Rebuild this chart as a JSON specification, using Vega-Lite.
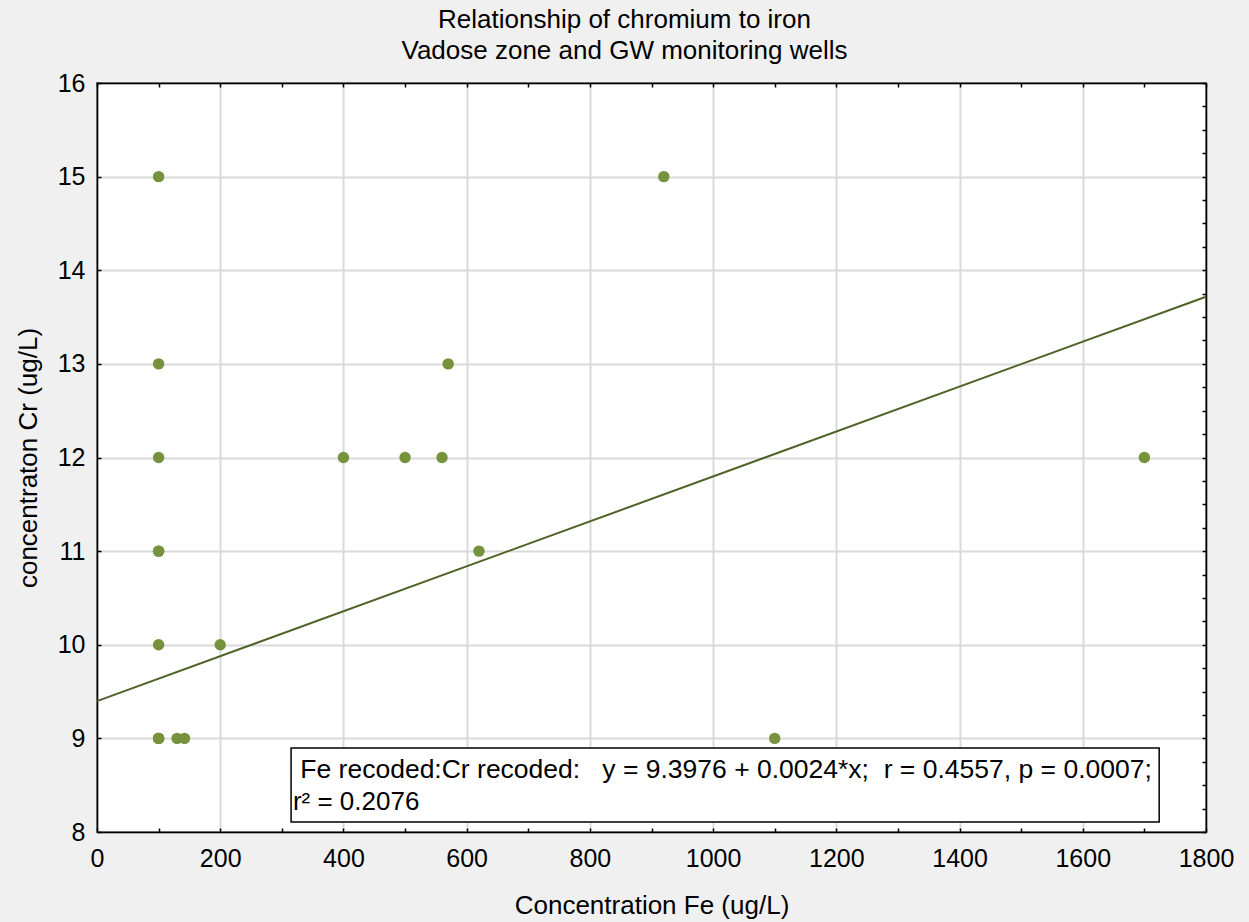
{
  "$schema": "https://vega.github.io/schema/vega-lite/v6.json",
  "width": 1109,
  "height": 749,
  "autosize": {"type": "none"},
  "padding": {"left": 97, "top": 83, "right": 43, "bottom": 90},
  "background": "#f0f0f0",
  "config": {
    "view": {"fill": "white", "stroke": "black", "strokeWidth": 1.5},
    "font": "Liberation Sans",
    "text": {"font": "Liberation Sans"}
  },
  "title": {
    "text": ["Relationship of chromium to iron", "Vadose zone and GW monitoring wells"],
    "font": "Liberation Sans",
    "fontSize": 26,
    "fontWeight": "normal",
    "color": "black",
    "anchor": "middle",
    "baseline": "alphabetic",
    "dx": -27,
    "lineHeight": 31,
    "offset": -14
  },
  "datasets": {
    "points": [
      {"Fe": 100, "Cr": 15}, {"Fe": 100, "Cr": 13}, {"Fe": 100, "Cr": 12},
      {"Fe": 100, "Cr": 11}, {"Fe": 100, "Cr": 11}, {"Fe": 100, "Cr": 10},
      {"Fe": 100, "Cr": 9}, {"Fe": 100, "Cr": 9}, {"Fe": 100, "Cr": 9},
      {"Fe": 130, "Cr": 9}, {"Fe": 142, "Cr": 9}, {"Fe": 200, "Cr": 10},
      {"Fe": 400, "Cr": 12}, {"Fe": 500, "Cr": 12}, {"Fe": 560, "Cr": 12},
      {"Fe": 570, "Cr": 13}, {"Fe": 620, "Cr": 11}, {"Fe": 920, "Cr": 15},
      {"Fe": 1100, "Cr": 9}, {"Fe": 1700, "Cr": 12}
    ],
    "fit": [{"Fe": 0, "Cr": 9.3976}, {"Fe": 1800, "Cr": 13.7176}]
  },
  "layer": [
    {
      "layer": [
        {
          "data": {"name": "points"},
          "mark": {"type": "circle", "size": 130, "color": "#76923c", "opacity": 1},
          "encoding": {
            "x": {
              "field": "Fe", "type": "quantitative",
              "scale": {"domain": [0, 1800], "nice": false, "zero": false},
              "axis": {
                "orient": "bottom",
                "values": [0,100,200,300,400,500,600,700,800,900,1000,1100,1200,1300,1400,1500,1600,1700,1800],
                "format": "d",
                "labelExpr": "datum.value % 200 == 0 ? datum.label : ''",
                "labelOverlap": false,
                "labelFlush": false,
                "labelFontSize": 25,
                "labelColor": "black",
                "labelPadding": 18,
                "grid": true,
                "gridColor": "#dadada",
                "gridWidth": 2,
                "gridOpacity": {"condition": {"test": "datum.value % 200 == 0", "value": 1}, "value": 0},
                "tickSize": -4,
                "tickColor": "black",
                "tickWidth": 1.5,
                "domainColor": "black",
                "domainWidth": 1.5,
                "title": "Concentration Fe (ug/L)",
                "titleFontSize": 26,
                "titleFontWeight": "normal",
                "titleColor": "black",
                "titlePadding": 21
              }
            },
            "y": {
              "field": "Cr", "type": "quantitative",
              "scale": {"domain": [8, 16], "nice": false, "zero": false},
              "axis": {
                "orient": "left",
                "values": [8,8.25,8.5,8.75,9,9.25,9.5,9.75,10,10.25,10.5,10.75,11,11.25,11.5,11.75,12,12.25,12.5,12.75,13,13.25,13.5,13.75,14,14.25,14.5,14.75,15,15.25,15.5,15.75,16],
                "format": "d",
                "labelExpr": "datum.value % 1 == 0 ? datum.label : ''",
                "labelOverlap": false,
                "labelFlush": false,
                "labelFontSize": 25,
                "labelColor": "black",
                "labelPadding": 16,
                "grid": true,
                "gridColor": "#dadada",
                "gridWidth": 2,
                "gridOpacity": {"condition": {"test": "datum.value % 1 == 0", "value": 1}, "value": 0},
                "tickSize": -4,
                "tickColor": "black",
                "tickWidth": 1.5,
                "domainColor": "black",
                "domainWidth": 1.5,
                "title": "concentraton Cr (ug/L)",
                "titleFontSize": 26,
                "titleFontWeight": "normal",
                "titleColor": "black",
                "titlePadding": 16
              }
            }
          }
        },
        {
          "data": {"values": [{"k": 1}]},
          "mark": {"type": "rect", "fill": "white", "stroke": "black", "strokeWidth": 1.5},
          "encoding": {
            "x": {"datum": 315, "type": "quantitative", "scale": {"domain": [0, 1800], "nice": false, "zero": false}},
            "x2": {"datum": 1724},
            "y": {"datum": 8.897, "type": "quantitative", "scale": {"domain": [8, 16], "nice": false, "zero": false}},
            "y2": {"datum": 8.107}
          }
        },
        {
          "data": {"values": [{"label": "Fe recoded:Cr recoded:\u00a0\u00a0\u00a0y = 9.3976 + 0.0024*x;\u00a0\u00a0r = 0.4557, p = 0.0007;"}]},
          "mark": {"type": "text", "align": "left", "baseline": "alphabetic", "fontSize": 26.5, "color": "black", "font": "Liberation Sans"},
          "encoding": {
            "x": {"datum": 330, "type": "quantitative"},
            "y": {"datum": 8.577, "type": "quantitative"},
            "text": {"field": "label"}
          }
        },
        {
          "data": {"values": [{"label": "r\u00b2 = 0.2076"}]},
          "mark": {"type": "text", "align": "left", "baseline": "alphabetic", "fontSize": 26, "color": "black", "font": "Liberation Sans"},
          "encoding": {
            "x": {"datum": 318, "type": "quantitative"},
            "y": {"datum": 8.235, "type": "quantitative"},
            "text": {"field": "label"}
          }
        }
      ]
    },
    {
      "data": {"name": "fit"},
      "mark": {"type": "line", "color": "#4f6228", "strokeWidth": 2},
      "encoding": {
        "x": {
          "field": "Fe", "type": "quantitative",
          "scale": {"domain": [0, 1800], "nice": false, "zero": false},
          "axis": {
            "orient": "top",
            "values": [0,100,200,300,400,500,600,700,800,900,1000,1100,1200,1300,1400,1500,1600,1700,1800],
            "labels": false, "grid": false, "title": null,
            "tickSize": -4, "tickColor": "black", "tickWidth": 1.5,
            "domainColor": "black", "domainWidth": 1.5
          }
        },
        "y": {
          "field": "Cr", "type": "quantitative",
          "scale": {"domain": [8, 16], "nice": false, "zero": false},
          "axis": {
            "orient": "right",
            "values": [8,8.25,8.5,8.75,9,9.25,9.5,9.75,10,10.25,10.5,10.75,11,11.25,11.5,11.75,12,12.25,12.5,12.75,13,13.25,13.5,13.75,14,14.25,14.5,14.75,15,15.25,15.5,15.75,16],
            "labels": false, "grid": false, "title": null,
            "tickSize": -4, "tickColor": "black", "tickWidth": 1.5,
            "domainColor": "black", "domainWidth": 1.5
          }
        }
      }
    }
  ],
  "resolve": {"scale": {"x": "independent", "y": "independent"}}
}
